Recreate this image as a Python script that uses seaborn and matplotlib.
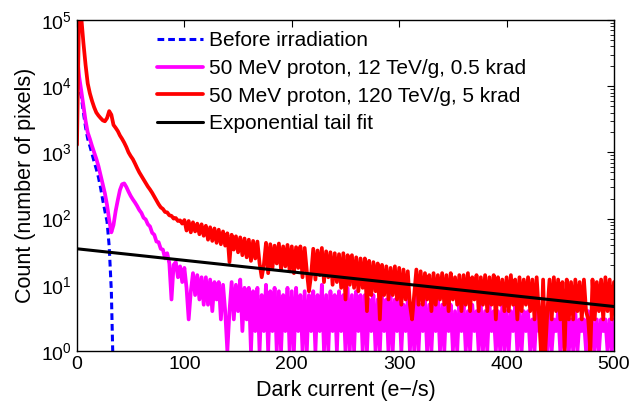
import numpy as np
import pandas as pd
import seaborn as sns
import matplotlib.pyplot as plt
from matplotlib.ticker import LogLocator, NullFormatter, FixedLocator

# bin centres of the dark current histograms (e-/s)
dark_current = np.arange(0, 501, 2)

before_counts = [25000, 10000, 7000, 4000, 2400, 1600, 1250, 950, 720, 560,
                 420, 290, 190, 130, 90, 38, 8, 0.3]

proton_12 = [30000, 14000, 8500, 5000, 3000, 2000, 1600, 1250, 1000, 800,
             620, 450, 330, 240, 160, 95, 62, 80, 130, 190,
             270, 330, 340, 300, 255, 220, 195, 175, 155, 135,
             122, 103, 97, 82, 76, 61, 57, 45, 44, 35,
             34, 25, 30, 21, 6, 20, 22, 13, 19, 11,
             18, 9, 3, 8, 15, 7, 14, 6, 13, 5,
             13, 5, 12, 4, 11, 6, 11, 3, 10, 4,
             1, 4, 11, 3, 10, 4, 12, 2, 9, 3,
             9, 1, 8, 2, 9, 1, 7, 2, 10, 1,
             8, 2, 9, 1, 8, 1, 7, 2, 9, 1,
             8, 1, 9, 2, 7, 1, 8, 1, 7, 2,
             8, 1, 7, 2, 10, 1, 7, 1, 8, 2,
             7, 1, 8, 2, 7, 1, 9, 1, 7, 1,
             8, 2, 7, 1, 7, 1, 6, 2, 7, 1,
             6, 1, 7, 2, 6, 1, 8, 1, 6, 2,
             6, 1, 5, 2, 6, 1, 5, 1, 7, 1,
             5, 2, 6, 1, 5, 1, 5, 2, 6, 1,
             5, 1, 6, 2, 5, 1, 4, 1, 5, 2,
             5, 1, 4, 1, 5, 2, 4, 1, 5, 1,
             4, 1, 5, 2, 4, 1, 4, 1, 5, 1,
             4, 1, 4, 2, 5, 1, 4, 1, 4, 2,
             4, 1, 3, 1, 4, 2, 4, 1, 3, 1,
             4, 1, 3, 2, 4, 1, 3, 1, 4, 1,
             3, 1, 4, 1, 3, 2, 3, 1, 4, 1,
             3, 1, 3, 1, 3, 2, 3, 1, 3, 1, 3]

proton_120 = [1300, 150000, 110000, 45000, 21000, 11000, 7800, 6000, 4800, 4000,
              3600, 3300, 3050, 2950, 3300, 4200, 3700, 2600, 2350, 2100,
              1800, 1600, 1400, 1200, 1000, 880, 790, 680, 580, 500,
              440, 390, 345, 305, 275, 245, 215, 190, 165, 148,
              140, 126, 124, 112, 110, 100, 102, 92, 94, 84,
              95, 66, 92, 62, 88, 64, 84, 58, 82, 55,
              78, 48, 74, 46, 71, 43, 68, 41, 64, 39,
              60, 22, 57, 34, 54, 31, 52, 28, 50, 26,
              48, 23, 46, 25, 45, 21, 13, 20, 43, 15,
              41, 18, 39, 21, 42, 17, 38, 19, 40, 16,
              38, 15, 37, 18, 38, 13, 36, 16, 8, 14,
              35, 12, 33, 14, 36, 11, 32, 13, 31, 10,
              30, 11, 29, 9, 30, 6, 28, 10, 28, 9,
              26, 8, 25, 9, 25, 4, 23, 7, 22, 8,
              21, 3, 20, 7, 19, 6, 18, 7, 19, 6,
              18, 5, 17, 6, 16, 5, 3, 7, 17, 5,
              16, 5, 15, 6, 14, 4, 15, 5, 14, 6,
              15, 5, 14, 4, 15, 6, 13, 5, 14, 4,
              14, 5, 15, 4, 13, 6, 14, 4, 13, 5,
              14, 4, 13, 5, 14, 3, 13, 5, 12, 4,
              13, 4, 14, 5, 12, 3, 13, 4, 12, 5,
              13, 4, 12, 3, 13, 4, 1, 12, 1, 4,
              12, 3, 13, 4, 12, 3, 11, 1, 12, 3,
              11, 3, 12, 4, 11, 3, 12, 4, 3, 1,
              12, 3, 11, 4, 12, 3, 13, 4, 12, 3, 11]

fit_x = [0, 500]
fit_counts = [35, 4.7]

df_before = pd.DataFrame({'x': dark_current[:len(before_counts)], 'y': before_counts})
df_12 = pd.DataFrame({'x': dark_current, 'y': proton_12})
df_120 = pd.DataFrame({'x': dark_current, 'y': proton_120})
df_fit = pd.DataFrame({'x': fit_x, 'y': fit_counts})

sns.set_theme(style="white")
plt.rcParams['font.family'] = ['Liberation Sans', 'DejaVu Sans']
plt.rcParams['text.color'] = 'black'
plt.rcParams['axes.labelcolor'] = 'black'

fig = plt.figure(figsize=(6.32, 4.08), dpi=100)
ax = fig.add_axes([0.1218, 0.1397, 0.8497, 0.8113])

sns.lineplot(data=df_before, x='x', y='y', color='#0000ff', lw=2.2,
             ax=ax, label='Before irradiation')
ax.lines[-1].set_dashes((2.2, 1.3))
sns.lineplot(data=df_12, x='x', y='y', color='#ff00ff', lw=2.7, ax=ax,
             label='50 MeV proton, 12 TeV/g, 0.5 krad')
sns.lineplot(data=df_120, x='x', y='y', color='#ff0000', lw=2.7, ax=ax,
             label='50 MeV proton, 120 TeV/g, 5 krad')
sns.lineplot(data=df_fit, x='x', y='y', color='black', lw=2.2, ax=ax,
             label='Exponential tail fit')

ax.set_yscale('log')
ax.set_xlim(0, 500)
ax.set_ylim(1, 1e5)
ax.xaxis.set_major_locator(FixedLocator([0, 100, 200, 300, 400, 500]))
ax.yaxis.set_major_locator(LogLocator(base=10, numticks=10))
ax.yaxis.set_minor_locator(LogLocator(base=10, subs=np.arange(2, 10), numticks=20))
ax.yaxis.set_minor_formatter(NullFormatter())
ax.tick_params(which='both', direction='in', top=True, right=True,
               labelsize=14, colors='black')
ax.tick_params(which='major', length=5, width=0.8)
ax.tick_params(which='minor', length=3, width=0.6)
for s in ax.spines.values():
    s.set_color('black')
    s.set_linewidth(1)

ax.set_xlabel('Dark current (e\u2212/s)', fontsize=15.5, labelpad=5)
ax.set_ylabel('Count (number of pixels)', fontsize=15.5, labelpad=4)

leg = ax.legend(loc='upper left', bbox_to_anchor=(0.149, 0.966), frameon=False,
                fontsize=15, borderpad=0, borderaxespad=0, handlelength=2.2,
                handletextpad=0.3, labelspacing=0.42)
for t in leg.get_texts():
    t.set_color('black')

fig.savefig('out.png', dpi=100)
plt.close()
